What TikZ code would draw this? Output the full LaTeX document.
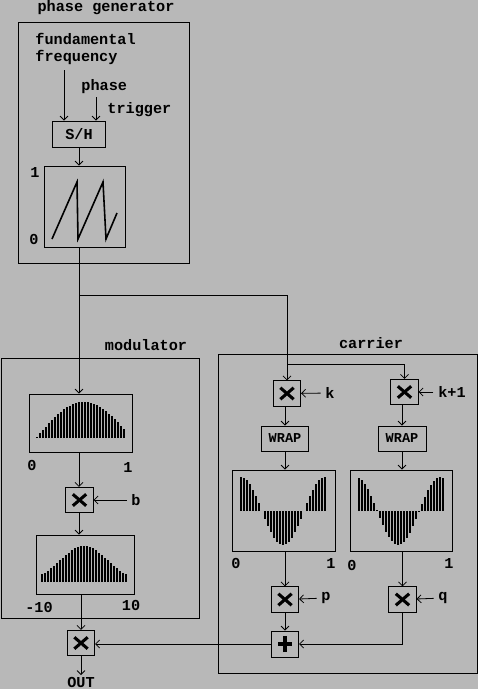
\documentclass[tikz,border=0pt]{standalone}
\usepackage{fontspec}
\usetikzlibrary{arrows.meta}
\setmainfont{Liberation Mono}
\definecolor{bggray}{RGB}{184,184,184}

\begin{document}
\begin{tikzpicture}[x=0.75pt,y=-0.75pt,line width=0.6pt,>={Straight Barb[length=3pt,width=6pt]},
    font=\bfseries\fontsize{11.4}{12.8}\selectfont]
    \tikzstyle{box}=[draw=black,inner sep=0pt]
    \tikzstyle{mul}=[box,minimum width=20.5pt,minimum height=19pt,
        path picture={\draw[line width=2.3pt,shift={(path picture bounding box.center)}]
            (-5pt,-4.3pt) -- (5pt,4.3pt) (-5pt,4.3pt) -- (5pt,-4.3pt);}]
    \tikzstyle{add}=[box,minimum width=20.5pt,minimum height=19.5pt,
        path picture={\draw[line width=2.3pt,shift={(path picture bounding box.center)}]
            (-5pt,0pt) -- (5pt,0pt) (0pt,-6pt) -- (0pt,6pt);}]
    \tikzstyle{bar}=[line width=1.2pt]
    \tikzstyle{small}=[font=\bfseries\fontsize{10.2}{12}\selectfont]

    \useasboundingbox (0,0) rectangle (478,689);
    \fill[bggray] (0,0) rectangle (478,689);

    % phase generator
    \draw (18,22) rectangle (189,263);
    \node (pgtitle) at (106,8) {phase generator};
    \node[anchor=west,align=left,inner sep=0pt] (ff) at (35,49) {fundamental\\frequency};
    \node[anchor=west,inner sep=0pt] (phase) at (81,87) {phase};
    \node[anchor=west,inner sep=0pt] (trig) at (107,110) {trigger};
    \coordinate (ffin) at (64,70);
    \coordinate (phin) at (96,97);
    \node[box,minimum width=39.75pt,minimum height=19.5pt] (SH) at (79,134) {S/H};
    \node[box,minimum width=60.75pt,minimum height=60.75pt] (saw) at (84.5,206.5) {};
    \node (one) at (35,172) {1};
    \node (zero) at (34,239) {0};
    \draw[->] (ffin) -- (ffin |- SH.north);
    \draw[->] (phin) -- (phin |- SH.north);
    \draw[->] (SH.south) -- (SH.south |- saw.north);
    \draw[line width=1.2pt] (52,239) -- (77,182) -- (78,239) -- (103,182) -- (106,239) -- (117,213);

    % modulator
    \draw (1,358) rectangle (199,618);
    \node (modtitle) at (146,345) {modulator};
    \node[box,minimum width=77.25pt,minimum height=43.5pt] (mplot1) at (80.5,423) {};
    \foreach \i in {0,...,29}{
        \pgfmathsetmacro\xx{37+3*\i}
        \pgfmathsetmacro\hh{35*sin(167*\i/29)+1}
        \draw[bar] (\xx,438) -- (\xx,438-\hh);
    }
    \node (m0) at (32,465) {0};
    \node (m1) at (128,467) {1};
    \node[mul] (mulb) at (79.5,500) {};
    \node (b) at (136,500) {b};
    \node[box,minimum width=73.5pt,minimum height=44.25pt] (mplot2) at (85,564.5) {};
    \foreach \i in {0,...,28}{
        \pgfmathsetmacro\xx{42+3*\i}
        \pgfmathsetmacro\hh{36*exp(-1*pow((\i/28-0.5)/0.4,2))}
        \draw[bar] (\xx,582) -- (\xx,582-\hh);
    }
    \node (mm10) at (39,607) {-10};
    \node (m10) at (131,605) {10};
    \node[mul] (mulout) at (81,643) {};
    \node[inner sep=1pt] (out) at (81,682) {OUT};

    % carrier
    \draw (218,354) rectangle (477,673);
    \node (cartitle) at (371,343) {carrier};
    \node[mul] (mulk) at (287,393.5) {};
    \node[mul] (mulk1) at (404.5,392) {};
    \node (k) at (330,393) {k};
    \node (k1) at (452,392) {k+1};
    \node[box,small,minimum width=35.25pt,minimum height=18.75pt] (wrap1) at (285,438.5) {WRAP};
    \node[box,small,minimum width=36pt,minimum height=18.75pt] (wrap2) at (402,438.5) {WRAP};
    \node[box,minimum width=77.25pt,minimum height=60.75pt] (cplot1) at (283.5,510.5) {};
    \node[box,minimum width=76.5pt,minimum height=60.75pt] (cplot2) at (401,510.5) {};
    \foreach \i in {0,...,28}{
        \pgfmathsetmacro\hh{34*cos(360*\i/28)}
        \pgfmathsetmacro\hk{34*cos(360*\i/28+12)}
        \draw[bar] (241+3*\i,511) -- (241+3*\i,511-\hh);
        \draw[bar] (359+3*\i,511) -- (359+3*\i,511-\hk);
    }
    \node (c0) at (236,563) {0};
    \node (c1) at (331,563) {1};
    \node (d0) at (352,565) {0};
    \node (d1) at (449,563) {1};
    \node[mul] (mulp) at (285,599.5) {};
    \node (p) at (326,598) {p};
    \node[mul] (mulq) at (402.5,599.5) {};
    \node (q) at (443,598) {q};
    \node[add] (sum) at (285,644) {};

    % connections
    \coordinate (split) at (79,295);
    \coordinate (split2) at (287,364);
    \draw (SH.south |- saw.south) -- (split);
    \draw[->] (split) -- (split |- mplot1.north);
    \draw[->] (split) -| (mulk.north);
    \draw[->] (split2) -| (mulk1.north);
    \draw[->] (split |- mplot1.south) -- (split |- mulb.north);
    \draw[->] (b) -- (mulb);
    \draw[->] (split |- mulb.south) -- (split |- mplot2.north);
    \draw[->] (mulout |- mplot2.south) -- (mulout.north);
    \draw[->] (mulout.south) -- (out.north);
    \draw[->] (k) -- (mulk);
    \draw[->] (k1) -- (mulk1);
    \draw[->] (wrap1 |- mulk.south) -- (wrap1.north);
    \draw[->] (wrap2 |- mulk1.south) -- (wrap2.north);
    \draw[->] (wrap1.south) -- (wrap1.south |- cplot1.north);
    \draw[->] (wrap2.south) -- (wrap2.south |- cplot2.north);
    \draw[->] (mulp |- cplot1.south) -- (mulp.north);
    \draw[->] (mulq |- cplot2.south) -- (mulq.north);
    \draw[->] (p) -- (mulp);
    \draw[->] (q) -- (mulq);
    \draw[->] (mulp.south) -- (sum.north);
    \draw[->] (mulq.south) |- (sum.east);
    \draw[->] (sum.west) -- (sum.west -| mulout.east);
\end{tikzpicture}
\end{document}
